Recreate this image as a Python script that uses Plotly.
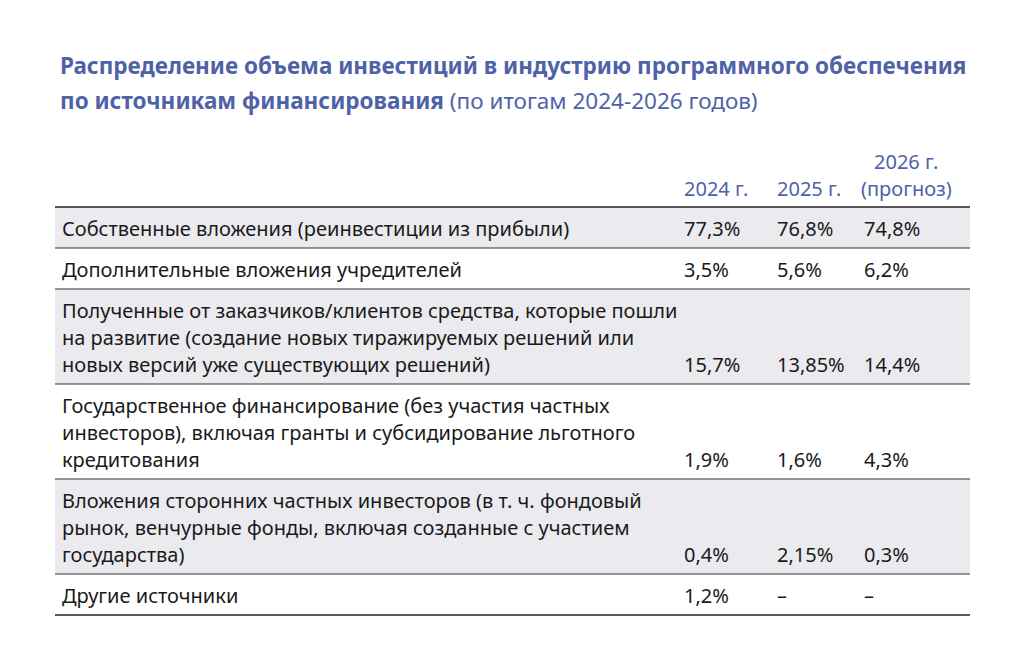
import plotly.graph_objects as go

title_bold = ["Распределение объема инвестиций в индустрию программного обеспечения",
              "по источникам финансирования"]
title_rest = " (по итогам 2024-2026 годов)"

headers = [["2024 г."], ["2025 г."], ["2026 г.", "(прогноз)"]]

labels = [
    ["Собственные вложения (реинвестиции из прибыли)"],
    ["Дополнительные вложения учредителей"],
    ["Полученные от заказчиков/клиентов средства, которые пошли",
     "на развитие (создание новых тиражируемых решений или",
     "новых версий уже существующих решений)"],
    ["Государственное финансирование (без участия частных",
     "инвесторов), включая гранты и субсидирование льготного",
     "кредитования"],
    ["Вложения сторонних частных инвесторов (в т. ч. фондовый",
     "рынок, венчурные фонды, включая созданные с участием",
     "государства)"],
    ["Другие источники"],
]
v2024 = ["77,3%", "3,5%", "15,7%", "1,9%", "0,4%", "1,2%"]
v2025 = ["76,8%", "5,6%", "13,85%", "1,6%", "2,15%", "–"]
v2026 = ["74,8%", "6,2%", "14,4%", "4,3%", "0,3%", "–"]

BLUE = "#4f62a8"
TXT = "#1a1a1a"
FONT = "Noto Sans"
FS = 20
LH = 27
OFF = 8  # page body margin
X0, X1 = 55 - OFF, 970 - OFF
COLS = [c - OFF for c in (682, 775, 862)]

fig = go.Figure()
shapes, ann = [], []

def text(x, y, s, color=TXT, size=FS, xanchor="left"):
    ann.append(dict(x=x, y=y, text=s, showarrow=False, xanchor=xanchor, yanchor="middle",
                    font=dict(family=FONT, size=size, color=color)))

# title
text(58 - OFF, 65 - OFF, "<b>" + title_bold[0] + "</b>", BLUE, 22.5)
text(58 - OFF, 100 - OFF, "<b>" + title_bold[1] + "</b>" + title_rest, BLUE, 22.5)

# header
top = 207 - OFF
for x, h in zip(COLS, headers):
    for i, s in enumerate(h[::-1]):
        if len(h) > 1:
            text(x + 44, 188 - OFF - i * LH, s, BLUE, FS, "center")
        else:
            text(x, 188 - OFF, s, BLUE, FS)

y = top
for i, lab in enumerate(labels):
    h = 14 + LH * len(lab)
    if i % 2 == 0:
        shapes.append(dict(type="rect", x0=X0, x1=X1, y0=y, y1=y + h, fillcolor="#ebebef",
                           line_width=0, layer="below"))
    for j, s in enumerate(lab):
        text(60 - OFF, y + 21 + j * LH, s)
    yb = y + 21 + (len(lab) - 1) * LH
    for x, v in zip(COLS, [v2024[i], v2025[i], v2026[i]]):
        text(x, yb, v)
    y += h
    if i < len(labels) - 1:
        shapes.append(dict(type="line", x0=X0, x1=X1, y0=y, y1=y, line=dict(color="#333", width=1)))

shapes.append(dict(type="line", x0=X0, x1=X1, y0=top, y1=top, line=dict(color="#222", width=1.5)))
shapes.append(dict(type="line", x0=X0, x1=X1, y0=y, y1=y, line=dict(color="#222", width=1.5)))

fig.update_layout(
    width=1024, height=665, margin=dict(l=0, r=0, t=0, b=0),
    paper_bgcolor="white", plot_bgcolor="white",
    xaxis=dict(range=[0, 1024], visible=False),
    yaxis=dict(range=[665, 0], visible=False),
    shapes=shapes, annotations=ann, showlegend=False,
)
fig.write_html("out.html")
